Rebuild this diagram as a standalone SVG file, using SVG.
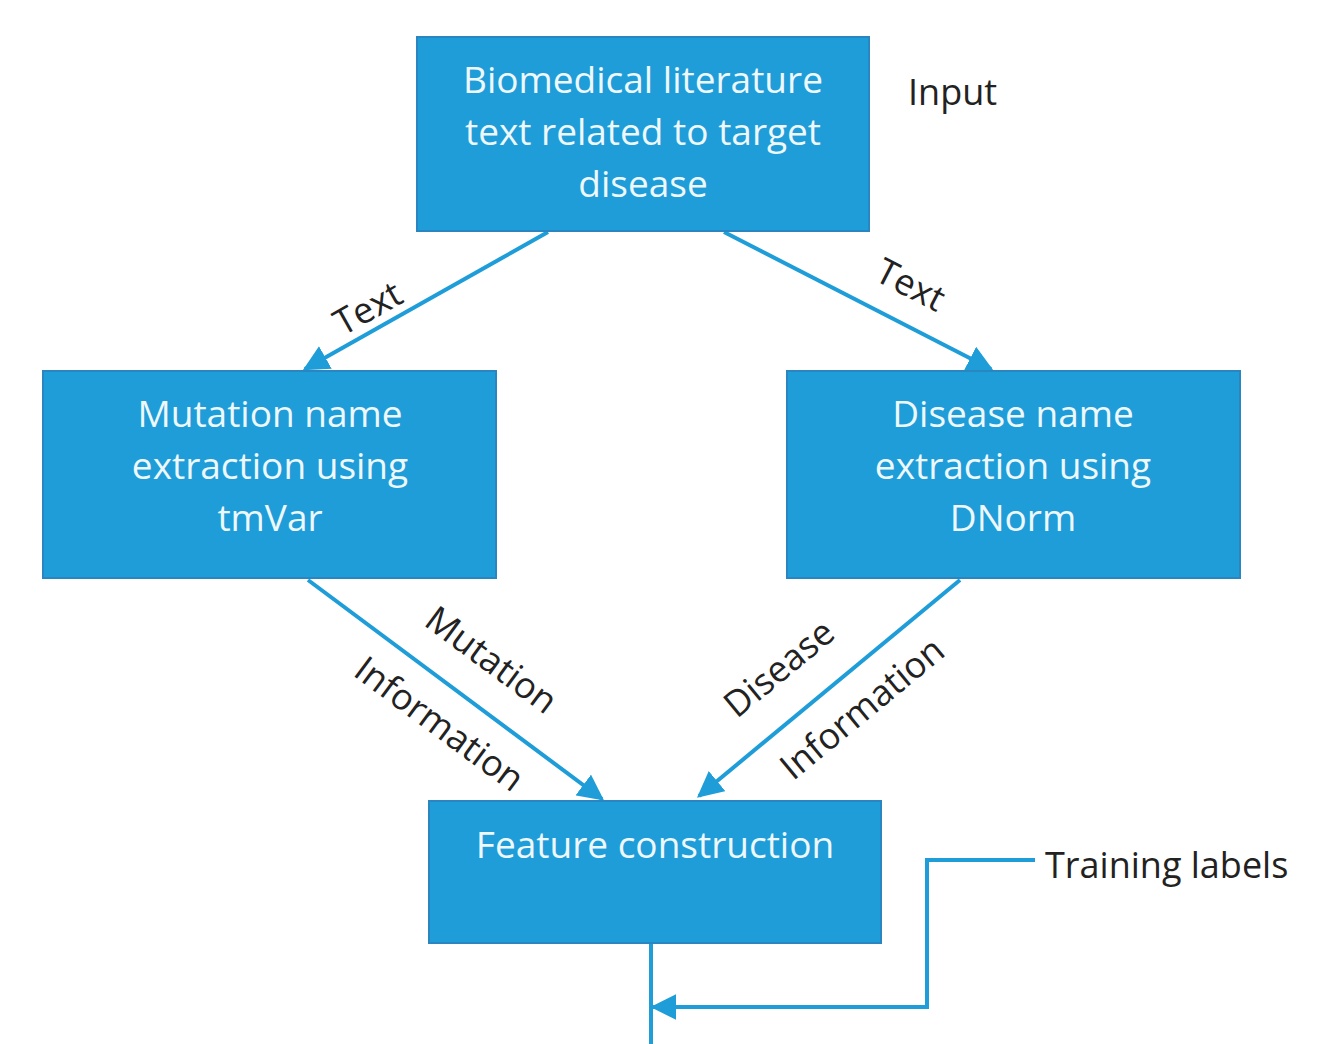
<svg xmlns="http://www.w3.org/2000/svg" width="1340" height="1044" viewBox="0 0 1340 1044">
<defs>
<style>
.box{fill:#1e9dd8;stroke:#2a86c0;stroke-width:2}
.bt{font-family:"Open Sans","Liberation Sans",sans-serif;font-size:37px;fill:#eef8fc;text-anchor:middle}
.lb{font-family:"Open Sans","Liberation Sans",sans-serif;font-size:36px;fill:#222;text-anchor:middle}
.ln{font-family:"Open Sans","Liberation Sans",sans-serif;font-size:36px;fill:#222}
.c{stroke:#1e9dd8;stroke-width:4;fill:none}
</style>
<marker id="ah" viewBox="0 0 10 10" refX="9" refY="5" markerWidth="6.5" markerHeight="6.5" markerUnits="strokeWidth" orient="auto">
<path d="M0,0 L10,5 L0,10 z" fill="#1e9dd8"/>
</marker>
</defs>
<rect width="1340" height="1044" fill="#fff"/>
<g id="connectors">
<line class="c" x1="548" y1="232" x2="305" y2="369" marker-end="url(#ah)"/>
<line class="c" x1="724" y1="232" x2="991" y2="369" marker-end="url(#ah)"/>
<line class="c" x1="308" y1="580" x2="602" y2="799" marker-end="url(#ah)"/>
<line class="c" x1="960" y1="580" x2="699" y2="796" marker-end="url(#ah)"/>
<line class="c" x1="651" y1="943" x2="651" y2="1044"/>
<polyline class="c" points="1035,860 927,860 927,1007 653,1007" marker-end="url(#ah)"/>
<text class="lb" transform="translate(374,319) rotate(-29.4)">Text</text>
<text class="lb" transform="translate(905,296) rotate(27.2)">Text</text>
<text class="lb" transform="translate(484,670) rotate(36.4)">Mutation</text>
<text class="lb" transform="translate(432,734) rotate(36.4)">Information</text>
<text class="lb" transform="translate(787,678) rotate(-39.5)">Disease</text>
<text class="lb" transform="translate(870,718) rotate(-39.5)">Information</text>
</g>
<g id="input">
<rect class="box" x="417" y="37" width="452" height="194"/>
<text class="bt" x="643" y="93">Biomedical literature</text>
<text class="bt" x="643" y="145">text related to target</text>
<text class="bt" x="643" y="197">disease</text>
</g>
<text id="input-label" class="ln" x="908" y="105">Input</text>
<g id="mutation">
<rect class="box" x="43" y="371" width="453" height="207"/>
<text class="bt" x="270" y="427">Mutation name</text>
<text class="bt" x="270" y="479">extraction using</text>
<text class="bt" x="270" y="531">tmVar</text>
</g>
<g id="disease">
<rect class="box" x="787" y="371" width="453" height="207"/>
<text class="bt" x="1013" y="427">Disease name</text>
<text class="bt" x="1013" y="479">extraction using</text>
<text class="bt" x="1013" y="531">DNorm</text>
</g>
<g id="feature">
<rect class="box" x="429" y="801" width="452" height="142"/>
<text class="bt" x="655" y="858">Feature construction</text>
</g>
<text id="training-labels" class="ln" x="1045" y="878">Training labels</text>
</svg>
